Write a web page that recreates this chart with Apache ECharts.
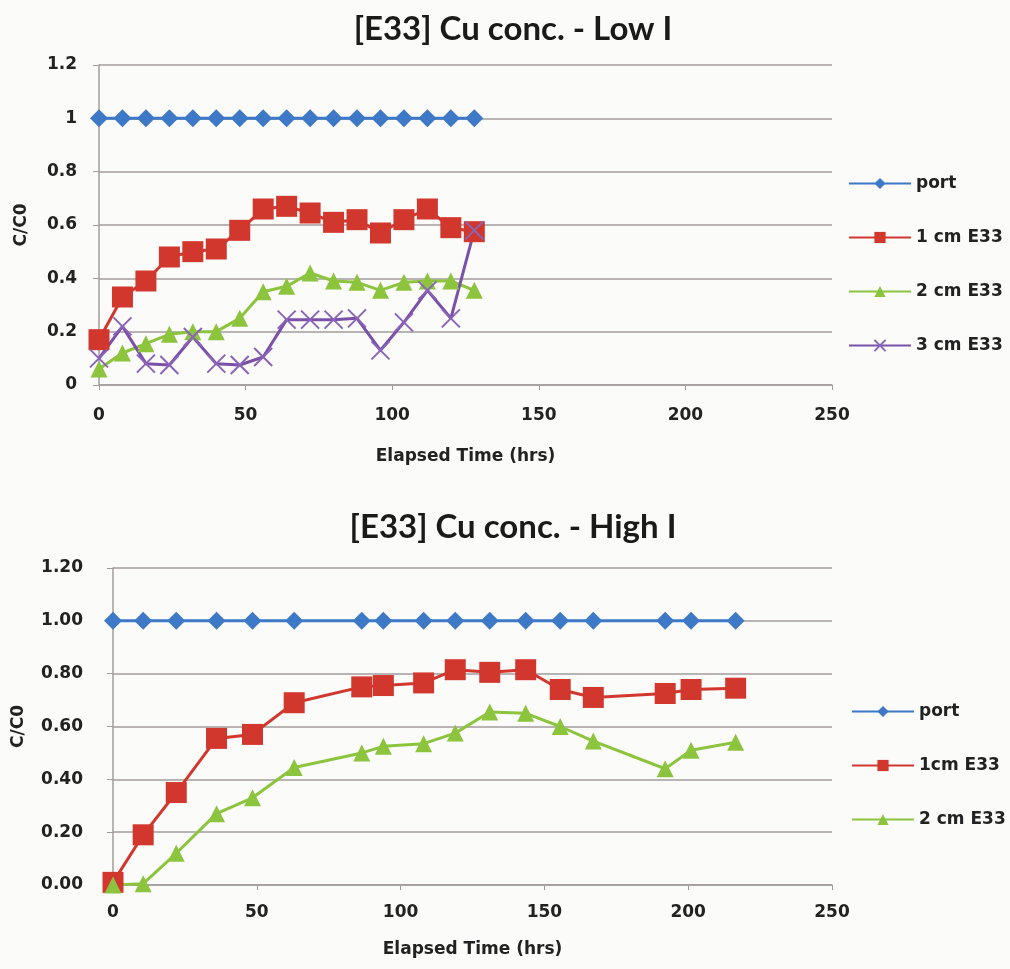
<!DOCTYPE html>
<html>
<head>
<meta charset="utf-8">
<script src="https://cdn.jsdelivr.net/npm/echarts@6/dist/echarts.min.js"></script>
<style>
html,body{margin:0;padding:0;background:#fbfbfa;}
#c{width:1010px;height:969px;}
</style>
</head>
<body>
<div id="c"></div>
<script>
// ---- Data: Low I (top chart) ----
const timesLow = [0, 8, 16, 24, 32, 40, 48, 56, 64, 72, 80, 88, 96, 104, 112, 120, 128];
const portLow  = [1, 1, 1, 1, 1, 1, 1, 1, 1, 1, 1, 1, 1, 1, 1, 1, 1];
const cm1Low   = [0.17, 0.33, 0.39, 0.48, 0.50, 0.51, 0.58, 0.66, 0.67, 0.645, 0.61, 0.62, 0.57, 0.62, 0.66, 0.59, 0.575];
const cm2Low   = [0.06, 0.12, 0.155, 0.19, 0.20, 0.20, 0.25, 0.35, 0.37, 0.42, 0.39, 0.385, 0.355, 0.385, 0.39, 0.39, 0.355];
const cm3Low   = [0.10, 0.22, 0.08, 0.075, 0.18, 0.08, 0.075, 0.105, 0.245, 0.245, 0.245, 0.25, 0.13, 0.235, 0.355, 0.25, 0.58];
const namesLow = ['port', '1 cm E33', '2 cm E33', '3 cm E33'];

// ---- Data: High I (bottom chart) ----
const timesHigh = [0, 10.5, 22, 36, 48.5, 63, 86.5, 94, 108, 119, 131, 143.5, 155.5, 167, 192, 201, 216.5];
const portHigh  = [1, 1, 1, 1, 1, 1, 1, 1, 1, 1, 1, 1, 1, 1, 1, 1, 1];
const cm1High   = [0.01, 0.19, 0.35, 0.555, 0.57, 0.69, 0.75, 0.755, 0.765, 0.815, 0.805, 0.815, 0.74, 0.71, 0.725, 0.74, 0.745];
const cm2High   = [0.0, 0.005, 0.12, 0.27, 0.33, 0.445, 0.50, 0.525, 0.535, 0.575, 0.655, 0.65, 0.60, 0.545, 0.44, 0.51, 0.54];
const namesHigh = ['port', '1cm E33', '2 cm E33'];

// ---- Axis ticks ----
const xMin = 0, xMax = 250, xStep = 50;
const yMin = 0, yMax = 1.2, yStep = 0.2;

const zip = (xs, ys) => xs.map((x, i) => [x, ys[i]]);

const C_BLUE = '#3d79c6', C_RED = '#d2372e', C_GREEN = '#8cc43e', C_PURPLE = '#7a50a8';
const TFONT = 'Lato';
const FONT = 'DejaVu Sans';
const XPATH = 'path://M0,0L10,10M10,0L0,10';

function xAxisCfg(gi, nameGap, margin) {
  return {
    type: 'value', gridIndex: gi, min: xMin, max: xMax, interval: xStep,
    name: 'Elapsed Time (hrs)', nameLocation: 'middle', nameGap: nameGap,
    nameTextStyle: { fontFamily: FONT, fontWeight: 'bold', fontSize: 17, color: '#222' },
    axisLine: { show: true, lineStyle: { color: '#a39d9d', width: 1.5 } },
    axisTick: { show: true, length: 5, lineStyle: { color: '#a39d9d' } },
    axisLabel: { fontFamily: FONT, fontWeight: 'bold', fontSize: 17, color: '#222', margin: margin },
    splitLine: { show: false }
  };
}
function yAxisCfg(gi, nameGap, margin, fmt) {
  return {
    type: 'value', gridIndex: gi, min: yMin, max: yMax, interval: yStep,
    name: 'C/C0', nameLocation: 'middle', nameGap: nameGap, nameRotate: 90,
    nameTextStyle: { fontFamily: FONT, fontWeight: 'bold', fontSize: 17, color: '#222' },
    axisLine: { show: true, lineStyle: { color: '#a39d9d', width: 1.5 } },
    axisTick: { show: true, length: 6, lineStyle: { color: '#a39d9d' } },
    axisLabel: { fontFamily: FONT, fontWeight: 'bold', fontSize: 17, color: '#222', margin: margin, formatter: fmt },
    splitLine: { show: true, lineStyle: { color: '#a39c9c', width: 1.5 } }
  };
}
function lineSeries(name, xi, yi, xs, ys, color, symbol, size, extra) {
  return Object.assign({
    type: 'line', name: name, xAxisIndex: xi, yAxisIndex: yi,
    data: zip(xs, ys), symbol: symbol, symbolSize: size,
    showAllSymbol: true,
    lineStyle: { color: color, width: 3 },
    itemStyle: { color: color },
    animation: false
  }, extra || {});
}

const legendText = { fontFamily: FONT, fontWeight: 'bold', fontSize: 17, color: '#222' };

const option = {
  backgroundColor: '#fbfbfa',
  animation: false,
  title: [
    { text: '[E33] Cu conc. - Low I', left: 508, top: 8, textAlign: 'center',
      textStyle: { fontFamily: TFONT, fontWeight: 'bold', fontSize: 33, color: '#1a1a1a' } },
    { text: '[E33] Cu conc. - High I', left: 508, top: 506, textAlign: 'center',
      textStyle: { fontFamily: TFONT, fontWeight: 'bold', fontSize: 33, color: '#1a1a1a' } }
  ],
  grid: [
    { left: 99, right: 178, top: 65, height: 320 },
    { left: 113, right: 178, top: 568, height: 317 }
  ],
  xAxis: [ xAxisCfg(0, 63, 22), xAxisCfg(1, 56, 19) ],
  yAxis: [
    yAxisCfg(0, 69, 22, v => String(Math.round(v * 10) / 10)),
    yAxisCfg(1, 86, 30, v => v.toFixed(2))
  ],
  legend: [
    { data: namesLow, orient: 'vertical', left: 843, top: 170, itemGap: 37,
      itemWidth: 62, itemHeight: 14, textStyle: legendText, selectedMode: false },
    { data: namesHigh, orient: 'vertical', left: 846, top: 698, itemGap: 37,
      itemWidth: 62, itemHeight: 14, textStyle: legendText, selectedMode: false }
  ],
  series: [
    lineSeries('port', 0, 0, timesLow, portLow, C_BLUE, 'diamond', 18),
    lineSeries('1 cm E33', 0, 0, timesLow, cm1Low, C_RED, 'rect', 21),
    lineSeries('2 cm E33', 0, 0, timesLow, cm2Low, C_GREEN, 'triangle', 17),
    lineSeries('3 cm E33', 0, 0, timesLow, cm3Low, C_PURPLE, XPATH, 18,
      { itemStyle: { color: 'none', borderColor: '#8a64b8', borderWidth: 2 } }),
    lineSeries('port', 1, 1, timesHigh, portHigh, C_BLUE, 'diamond', 18),
    lineSeries('1cm E33', 1, 1, timesHigh, cm1High, C_RED, 'rect', 21),
    lineSeries('2 cm E33', 1, 1, timesHigh, cm2High, C_GREEN, 'triangle', 17)
  ]
};

const chart = echarts.init(document.getElementById('c'), null, { renderer: 'canvas' });
chart.setOption(option);
</script>
</body>
</html>
